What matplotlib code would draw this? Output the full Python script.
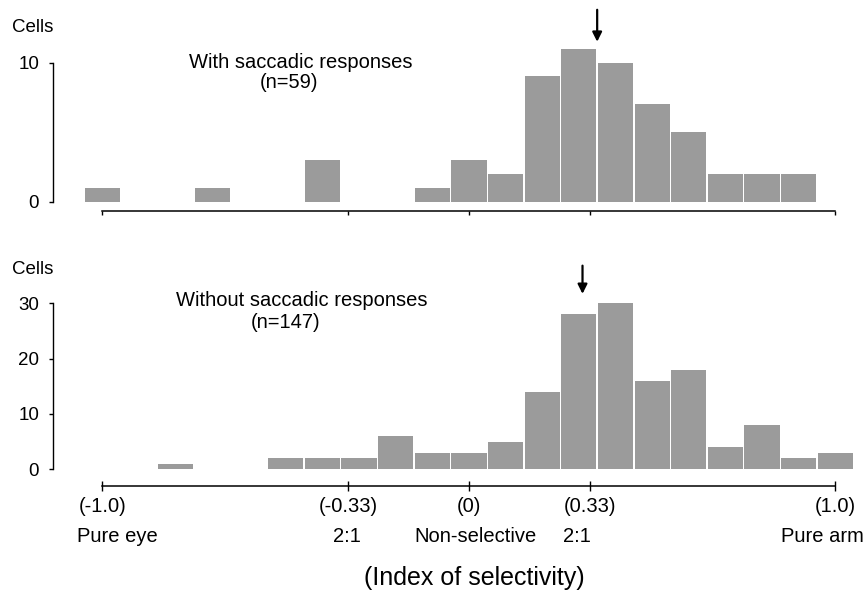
import matplotlib
matplotlib.use("Agg")
import matplotlib.pyplot as plt

plt.rcParams['font.family'] = ['Liberation Sans', 'DejaVu Sans']

# bin centres (index of selectivity) and number of cells
sacc_idx = [-1.0, -0.7, -0.4, -0.1, 0.0, 0.1, 0.2, 0.3, 0.4, 0.5, 0.6, 0.7, 0.8, 0.9]
sacc_cells = [1, 1, 3, 1, 3, 2, 9, 11, 10, 7, 5, 2, 2, 2]

nosacc_idx = [-0.8, -0.5, -0.4, -0.3, -0.2, -0.1, 0.0, 0.1, 0.2, 0.3, 0.4,
              0.5, 0.6, 0.7, 0.8, 0.9, 1.0]
nosacc_cells = [1, 2, 2, 2, 6, 3, 3, 5, 14, 28, 30, 16, 18, 4, 8, 2, 3]

tick_vals = [-1.0, -0.33, 0, 0.33, 1.0]
tick_labels = ['(-1.0)', '(-0.33)', '(0)', '(0.33)', '(1.0)']
sub_labels = ['Pure eye', '2:1', 'Non-selective', '2:1', 'Pure arm']

arrow_top = 0.35   # mean index, saccadic cells
arrow_bot = 0.31   # mean index, non-saccadic cells

W, H = 864, 603
bar_color = '#9b9b9b'
fs = 13.5

fig = plt.figure(figsize=(W / 100, H / 100), dpi=100)

# ---- top panel ----
ax1 = fig.add_axes([53 / W, 391 / H, 819 / W, 205 / H])
ax1.bar(sacc_idx, sacc_cells, width=0.096, color=bar_color, linewidth=0)
ax1.set_xlim(-1.135, 1.1)
ax1.set_ylim(-0.75, 14)
for s in ['top', 'right']:
    ax1.spines[s].set_visible(False)
ax1.spines['left'].set_bounds(0, 10)
ax1.spines['bottom'].set_position(('data', -0.68))
ax1.spines['bottom'].set_bounds(-1, 1)
ax1.spines['left'].set_linewidth(1.0)
ax1.spines['bottom'].set_linewidth(1.1)
ax1.set_yticks([0, 10])
ax1.set_xticks(tick_vals)
ax1.set_xticklabels([])
ax1.tick_params(axis='y', direction='out', length=3, width=1, pad=7, labelsize=fs)
ax1.tick_params(axis='x', direction='out', length=3, width=1)
ax1.annotate('', xy=(arrow_top, 11.3), xytext=(arrow_top, 14.0),
             arrowprops=dict(arrowstyle='-|>', color='k', lw=1.6, mutation_scale=14),
             annotation_clip=False)

# ---- bottom panel ----
ax2 = fig.add_axes([53 / W, 116 / H, 819 / W, 228 / H])
ax2.bar(nosacc_idx, nosacc_cells, width=0.096, color=bar_color, linewidth=0)
ax2.set_xlim(-1.135, 1.1)
ax2.set_ylim(-3.2, 38)
for s in ['top', 'right']:
    ax2.spines[s].set_visible(False)
ax2.spines['left'].set_bounds(0, 30)
ax2.spines['bottom'].set_position(('data', -2.93))
ax2.spines['bottom'].set_bounds(-1, 1)
ax2.spines['left'].set_linewidth(1.0)
ax2.spines['bottom'].set_linewidth(1.1)
ax2.set_yticks([0, 10, 20, 30])
ax2.set_xticks(tick_vals)
ax2.set_xticklabels(tick_labels)
ax2.tick_params(axis='y', direction='out', length=3, width=1, pad=7, labelsize=fs)
ax2.tick_params(axis='x', direction='inout', length=7, width=1, pad=5, labelsize=14.5)
ax2.annotate('', xy=(arrow_bot, 31.2), xytext=(arrow_bot, 37.3),
             arrowprops=dict(arrowstyle='-|>', color='k', lw=1.6, mutation_scale=14),
             annotation_clip=False)

# second row of x labels
sub_x = [117, 347, 476, 577]
for x, t in zip(sub_x, sub_labels[:4]):
    fig.text(x / W, 1 - 537 / H, t, ha='center', va='center', fontsize=14.5)
fig.text(781 / W, 1 - 537 / H, sub_labels[4], ha='left', va='center', fontsize=14.5)

# panel labels
fig.text(33 / W, 1 - 28 / H, 'Cells', ha='center', va='center', fontsize=fs)
fig.text(33 / W, 1 - 269 / H, 'Cells', ha='center', va='center', fontsize=fs)
fig.text(301 / W, 1 - 62 / H, 'With saccadic responses', ha='center', va='center', fontsize=14.5)
fig.text(289 / W, 1 - 83 / H, '(n=59)', ha='center', va='center', fontsize=14.5)
fig.text(302 / W, 1 - 300 / H, 'Without saccadic responses', ha='center', va='center', fontsize=14.5)
fig.text(286 / W, 1 - 322 / H, '(n=147)', ha='center', va='center', fontsize=14.5)

fig.text(474 / W, 1 - 578 / H, '(Index of selectivity)', ha='center', va='center', fontsize=18)

fig.savefig('out.png', dpi=100)
